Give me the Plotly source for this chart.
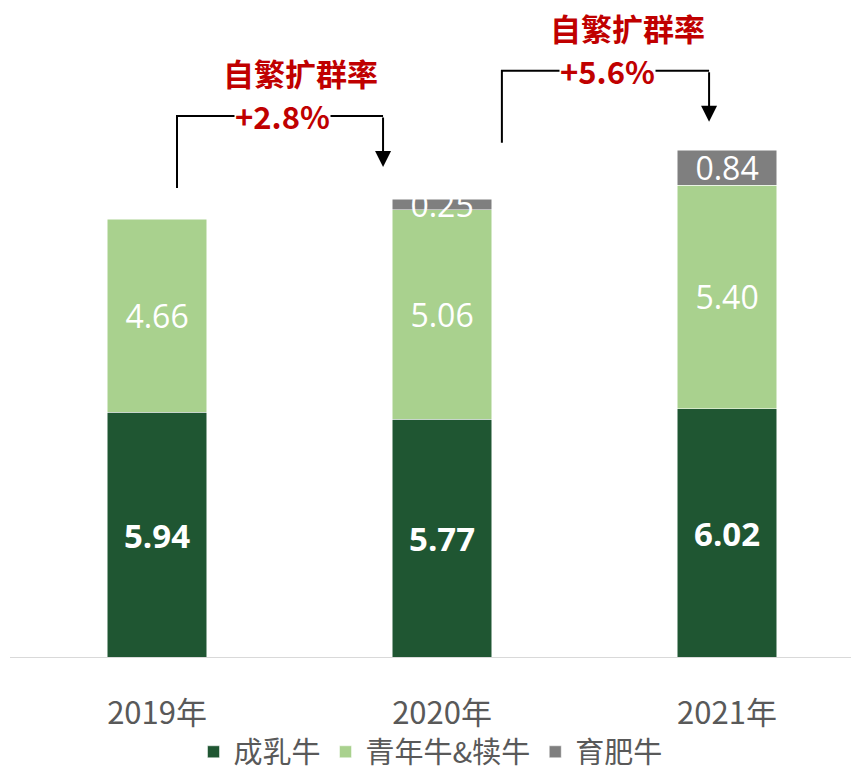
import plotly.graph_objects as go

years = ["2019年", "2020年", "2021年"]
dairy = [5.94, 5.77, 6.02]          # 成乳牛
young = [4.66, 5.06, 5.40]          # 青年牛&犊牛
fatten = [None, 0.25, 0.84]         # 育肥牛
growth = ["+2.8%", "+5.6%"]
series_names = ["成乳牛", "青年牛&犊牛", "育肥牛"]
colors = ["#1F5632", "#A9D18E", "#7F7F7F"]

xs = [0, 1, 2]
totals = [d + y + (f or 0) for d, y, f in zip(dairy, young, fatten)]

FONT = "Noto Sans CJK SC, Open Sans, sans-serif"
NUMFONT = "Open Sans, sans-serif"

fig = go.Figure()
fig.add_trace(go.Bar(
    x=xs, y=dairy, name=series_names[0], marker=dict(color=colors[0], line=dict(color="white", width=0.5)),
    text=[f"{v:.2f}" for v in dairy], textposition="inside", insidetextanchor="middle",
    textfont=dict(color="white", size=33, family=NUMFONT, weight="bold"),
    constraintext="none", width=0.35))
fig.add_trace(go.Bar(
    x=xs, y=young, name=series_names[1], marker=dict(color=colors[1], line=dict(color="white", width=0.5)),
    text=[f"{v:.2f}" for v in young], textposition="inside", insidetextanchor="middle",
    textfont=dict(color="white", size=32, family=NUMFONT),
    constraintext="none", width=0.35))
fig.add_trace(go.Bar(
    x=xs, y=fatten, name=series_names[2], marker=dict(color=colors[2], line=dict(color="white", width=0.5)),
    text=["" if v is None else f"{v:.2f}" for v in fatten], textposition="inside", insidetextanchor="middle",
    textfont=dict(color="white", size=32, family=NUMFONT),
    constraintext="none", width=0.35, cliponaxis=False))

# brackets with arrows (derived from bar totals)
brackets = [
    dict(x0=0.07, x1=0.793, ys=totals[0] + 0.75, ytop=totals[0] + 2.49, ytip=totals[1] + 0.78, label=growth[0], lx=0.44, tx=0.505),
    dict(x0=1.21, x1=1.937, ys=totals[1] + 1.36, ytop=totals[1] + 3.10, ytip=totals[2] + 0.69, label=growth[1], lx=1.579, tx=1.649),
]
for b in brackets:
    fig.add_shape(type="path", xref="x", yref="y",
                  path=f"M {b['x0']},{b['ys']} L {b['x0']},{b['ytop']} L {b['x1']},{b['ytop']}",
                  line=dict(color="black", width=2))
    fig.add_annotation(x=b["x1"], y=b["ytip"], ax=b["x1"], ay=b["ytop"], xref="x", yref="y",
                       axref="x", ayref="y", showarrow=True, arrowhead=2, arrowsize=1.6,
                       arrowwidth=2, arrowcolor="black", text="")
    fig.add_annotation(x=b["lx"], y=b["ytop"], xref="x", yref="y", text=b["label"], showarrow=False,
                       bgcolor="white", borderpad=0,
                       font=dict(color="#C00000", size=31, family=FONT, weight="bold"))
    fig.add_annotation(x=b["tx"], y=b["ytop"] + 1.04, xref="x", yref="y", text="自繁扩群率", showarrow=False,
                       font=dict(color="#C00000", size=31, family=FONT, weight="bold"))

fig.add_shape(type="line", xref="paper", yref="y", x0=0, x1=1, y0=0, y1=0,
              line=dict(color="#D9D9D9", width=2))

fig.update_layout(
    barmode="stack",
    width=851, height=777,
    margin=dict(l=10, r=0, t=0, b=119, autoexpand=False),
    paper_bgcolor="white", plot_bgcolor="white",
    font=dict(family=FONT, color="#595959"),
    xaxis=dict(range=[-0.516, 2.435], tickvals=xs, ticktext=years, showgrid=False, zeroline=False,
               showline=False, ticks="outside", ticklen=28, tickcolor="rgba(0,0,0,0)",
               tickfont=dict(size=31, color="#595959", family=FONT)),
    yaxis=dict(range=[0, 15.89], visible=False, showgrid=False, zeroline=False),
    legend=dict(orientation="h", x=0.5, xanchor="center", y=-0.1815, yanchor="bottom",
                bgcolor="rgba(0,0,0,0)",
                font=dict(size=29, color="#595959", family=FONT), itemwidth=30,
                traceorder="normal"),
    showlegend=True,
)

fig.write_html("out.html")
